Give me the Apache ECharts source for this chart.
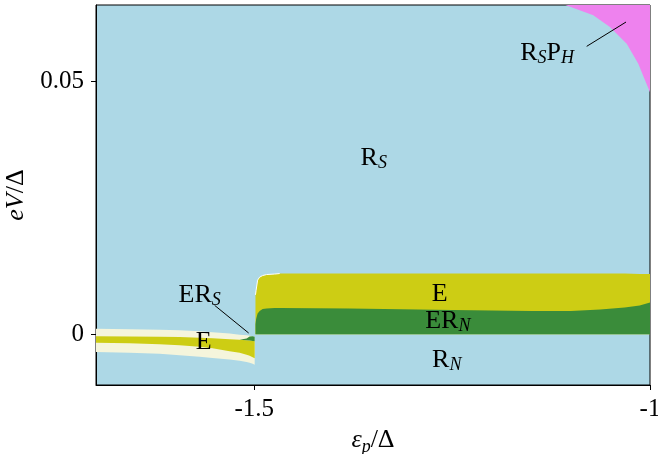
<!DOCTYPE html>
<html>
<head>
<meta charset="utf-8">
<script src="https://cdn.jsdelivr.net/npm/echarts@6/dist/echarts.min.js"></script>
<style>
  html, body { margin: 0; padding: 0; background: #fff; }
  #chart { width: 658px; height: 454px; }
</style>
</head>
<body>
<div id="chart"></div>
<script>
// Phase diagram in the (eps_p/Delta, eV/Delta) plane.

// Axis ticks
const xTicks = [-1.5, -1];
const xTickLabels = ['-1.5', '-1'];
const yTicks = [0, 0.05];
const yTickLabels = ['0', '0.05'];

// R_S P_H region: boundary below the top-right corner
const rsphX = [-1.107, -1.0717, -1.0506, -1.0294, -1.0148, -1.0063, -1.0];
const rsphLower = [0.065, 0.06296, 0.06065, 0.05737, 0.05342, 0.05013, 0.04776];

// Right block (eps_p > -1.5): E (yellow) over ER_N (green), both from eV = 0
const rightX = [-1.4985, -1.4977, -1.4958, -1.4932, -1.4894, -1.4844, -1.4743, -1.4679,
                -1.38, -1.25, -1.15, -1.10, -1.063, -1.032, -1.013, -1.0];
const rightETop = [0.0078, 0.0087, 0.0107, 0.0113, 0.0116, 0.0118, 0.0119, 0.0120,
                   0.0120, 0.0120, 0.0120, 0.0120, 0.0120, 0.0120, 0.0119, 0.0119];
const rightERnTop = [0.0020, 0.0030, 0.0041, 0.0046, 0.0050, 0.0051, 0.0052, 0.0052,
                     0.0051, 0.0048, 0.0046, 0.0046, 0.0049, 0.0053, 0.0057, 0.0063];

// Left band (eps_p < -1.5): cream envelope around the yellow E strip
const leftX = [-1.7, -1.6576, -1.6197, -1.5944, -1.5691, -1.5527, -1.5312, -1.5185,
               -1.5097, -1.5059, -1.5021, -1.4995];
const leftCreamTop = [0.00112, 0.00099, 0.00089, 0.00079, 0.00059, 0.00039, 0.00014, -0.00006,
                      -0.0002, -0.0003, -0.00039, -0.00049];
const leftETop = [-0.00039, -0.00043, -0.00049, -0.00053, -0.00069, -0.00079, -0.00099, -0.00109,
                  -0.00118, -0.00124, -0.00132, -0.00138];
const leftEBottom = [-0.00164, -0.00178, -0.00197, -0.00217, -0.00247, -0.00276, -0.00336, -0.00365,
                     -0.00401, -0.00424, -0.00454, -0.00474];
const leftCreamBottom = [-0.00349, -0.00365, -0.00385, -0.00414, -0.00444, -0.00468, -0.00499, -0.00523,
                         -0.00547, -0.00562, -0.00582, -0.00598];

// ER_S sliver just before eps_p = -1.5
const ersX = [-1.5185, -1.5097, -1.5059, -1.5021, -1.4995];
const ersTop = [-0.00109, -0.0008, -0.00045, -0.0004, -0.00049];
const ersBottom = [-0.00109, -0.00118, -0.00124, -0.00132, -0.00138];

// Leader lines for the small regions
const leaderRSPH = [[-1.08, 0.05684], [-1.0303, 0.06164]];
const leaderERS = [[-1.5501, 0.00572], [-1.5071, 0.00026]];

const COLORS = {
  rs: '#add8e6',
  rsph: '#ee82ee',
  e: '#cdcd14',
  ern: '#3a8c3a',
  cream: '#f5f5dc'
};

const FONT = 'Liberation Serif';
const FS = 26;
const FS_SUB = 18;

function band(name, xs, lower, upper, color, z) {
  const lo = i => Array.isArray(lower) ? lower[i] : lower;
  const up = i => Array.isArray(upper) ? upper[i] : upper;
  return {
    type: 'custom',
    name: name,
    coordinateSystem: 'cartesian2d',
    silent: true,
    z: z,
    clip: true,
    data: [[xs[0], up(0)]],
    renderItem: function (params, api) {
      const pts = [];
      for (let i = 0; i < xs.length; i++) pts.push(api.coord([xs[i], up(i)]));
      for (let i = xs.length - 1; i >= 0; i--) pts.push(api.coord([xs[i], lo(i)]));
      return { type: 'polygon', shape: { points: pts }, style: { fill: color } };
    }
  };
}

function leader(points) {
  return {
    type: 'line',
    data: points,
    symbol: 'none',
    silent: true,
    z: 10,
    lineStyle: { color: '#000', width: 1 },
    animation: false
  };
}

function richStyles(color) {
  return {
    n: { fontFamily: FONT, fontSize: FS, color: color, lineHeight: 30, verticalAlign: 'bottom' },
    s: { fontFamily: FONT, fontSize: FS_SUB, fontStyle: 'italic', color: color, lineHeight: 22, verticalAlign: 'bottom', padding: [0, 0, -1, 0] }
  };
}

// Region names placed in data coordinates
const regionLabels = [
  { at: [-1.349, 0.0352], text: '{n|R}{s|S}', color: '#000' },
  { at: [-1.13, 0.0559], text: '{n|R}{s|S}{n|P}{s|H}', color: '#000' },
  { at: [-1.2656, 0.0084], text: '{n|E}', color: '#000' },
  { at: [-1.2555, 0.0029], text: '{n|ER}{s|N}', color: '#fff' },
  { at: [-1.2568, -0.0047], text: '{n|R}{s|N}', color: '#000' },
  { at: [-1.569, 0.0082], text: '{n|ER}{s|S}', color: '#000' },
  { at: [-1.5639, -0.0011], text: '{n|E}', color: '#000' }
];

const labelSeries = {
  type: 'custom',
  coordinateSystem: 'cartesian2d',
  silent: true,
  z: 20,
  data: regionLabels.map(l => l.at),
  renderItem: function (params, api) {
    const l = regionLabels[params.dataIndex];
    const p = api.coord(l.at);
    return {
      type: 'text',
      x: p[0],
      y: p[1],
      style: {
        text: l.text,
        rich: richStyles(l.color),
        align: 'center',
        verticalAlign: 'middle'
      }
    };
  }
};

const chart = echarts.init(document.getElementById('chart'), null, { renderer: 'canvas' });
chart.setOption({
  animation: false,
  grid: {
    left: 96, right: 8, top: 5, bottom: 69,
    outerBoundsMode: 'none',
    containLabel: false,
    show: true,
    backgroundColor: COLORS.rs,
    borderColor: '#000',
    borderWidth: 1
  },
  xAxis: {
    type: 'value',
    min: -1.7, max: -1,
    splitLine: { show: false },
    axisLine: { show: true, onZero: false, lineStyle: { color: '#000', width: 1 } },
    axisTick: { show: true, inside: false, length: 5, customValues: xTicks, lineStyle: { color: '#000' } },
    axisLabel: {
      customValues: xTicks,
      formatter: v => xTickLabels[xTicks.indexOf(v)] ?? '',
      fontFamily: FONT, fontSize: 25, color: '#000', margin: 12
    },
    name: '{i|ε}{p|p}{n|/Δ}',
    nameLocation: 'middle',
    nameGap: 35,
    nameTextStyle: {
      rich: {
        i: { fontFamily: FONT, fontSize: FS, fontStyle: 'italic', color: '#000', lineHeight: 30, verticalAlign: 'bottom' },
        p: { fontFamily: FONT, fontSize: FS_SUB, fontStyle: 'italic', color: '#000', lineHeight: 22, verticalAlign: 'bottom', padding: [0, 0, -3, 0] },
        n: { fontFamily: FONT, fontSize: FS, color: '#000', lineHeight: 30, verticalAlign: 'bottom' }
      }
    }
  },
  yAxis: {
    type: 'value',
    min: -0.01, max: 0.065,
    splitLine: { show: false },
    axisLine: { show: true, onZero: false, lineStyle: { color: '#000', width: 1 } },
    axisTick: { show: true, inside: false, length: 5, customValues: yTicks, lineStyle: { color: '#000' } },
    axisLabel: {
      customValues: yTicks,
      formatter: v => yTickLabels[yTicks.indexOf(v)] ?? '',
      fontFamily: FONT, fontSize: 25, color: '#000', margin: 12
    },
    name: '{i|eV}{n|/Δ}',
    nameLocation: 'middle',
    nameGap: 64,
    nameRotate: 90,
    nameTextStyle: {
      rich: {
        i: { fontFamily: FONT, fontSize: FS, fontStyle: 'italic', color: '#000' },
        n: { fontFamily: FONT, fontSize: FS, color: '#000' }
      }
    }
  },
  series: [
    band('RSPH', rsphX, rsphLower, 0.065, COLORS.rsph, 2),
    band('left cream', leftX, leftCreamBottom, leftCreamTop, COLORS.cream, 3),
    band('left E', leftX, leftEBottom, leftETop, COLORS.e, 4),
    band('ERS', ersX, ersBottom, ersTop, COLORS.ern, 5),
    band('right E', rightX, 0, rightETop, COLORS.e, 3),
    band('right ERN', rightX, 0, rightERnTop, COLORS.ern, 4),
    {
      // thin light rim along the rounded top-left corner of the E block
      type: 'line',
      data: rightX.slice(0, 8).map((x, i) => [x, rightETop[i]]),
      symbol: 'none',
      silent: true,
      z: 6,
      lineStyle: { color: '#ffffff', width: 1 }
    },
    leader(leaderRSPH),
    leader(leaderERS),
    labelSeries
  ]
});
</script>
</body>
</html>
